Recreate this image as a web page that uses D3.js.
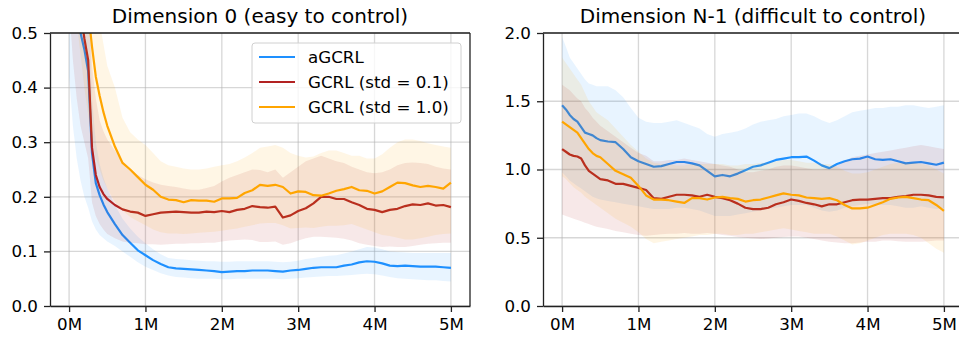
<!DOCTYPE html>
<html>
<head>
<meta charset="utf-8">
<script src="https://cdn.jsdelivr.net/npm/d3@7"></script>
<style>
body { margin: 0; background: #fff; }
text { font-family: "DejaVu Sans", sans-serif; }
</style>
</head>
<body>
<div id="chart"></div>
<script>
// training steps in millions
var steps = [0,0.05,0.1,0.15,0.2,0.25,0.3,0.35,0.4,0.45,0.5,
  0.6,0.7,0.8,0.9,1.0,1.1,1.2,1.3,1.4,1.5,
  1.6,1.7,1.8,1.9,2.0,2.1,2.2,2.3,2.4,2.5,
  2.6,2.7,2.8,2.9,3.0,3.1,3.2,3.3,3.4,3.5,
  3.6,3.7,3.8,3.9,4.0,4.1,4.2,4.3,4.4,4.5,
  4.6,4.7,4.8,4.9,5.0];
var xTicks = [0,1,2,3,4,5];
var labels = ["aGCRL", "GCRL (std = 0.1)", "GCRL (std = 1.0)"];
var titles = ["Dimension 0 (easy to control)", "Dimension N-1 (difficult to control)"];
var yTicks0 = [0,0.1,0.2,0.3,0.4,0.5];
var yTicksN = [0,0.5,1.0,1.5,2.0];

// Dimension 0
var dim0_agcrl = [0.80,0.66,0.56,0.50,0.47,0.43,0.28,0.225,0.203,0.186,0.172,
  0.150,0.130,0.116,0.102,0.093,0.084,0.077,0.071,0.069,0.068,
  0.067,0.066,0.065,0.064,0.062,0.063,0.064,0.064,0.065,0.065,
  0.065,0.064,0.063,0.065,0.066,0.068,0.070,0.071,0.071,0.071,
  0.074,0.076,0.080,0.082,0.081,0.078,0.074,0.073,0.074,0.073,
  0.072,0.072,0.072,0.071,0.070];
var dim0_agcrl_lo = [0.42,0.33,0.27,0.23,0.20,0.18,0.155,0.14,0.13,0.124,0.118,
  0.110,0.100,0.090,0.080,0.072,0.066,0.060,0.056,0.053,0.052,
  0.051,0.050,0.050,0.050,0.049,0.049,0.050,0.050,0.050,0.050,
  0.050,0.050,0.049,0.050,0.051,0.052,0.053,0.054,0.055,0.055,
  0.056,0.057,0.058,0.059,0.058,0.056,0.053,0.051,0.050,0.049,
  0.048,0.047,0.047,0.046,0.045];
var dim0_agcrl_hi = [1.10,0.95,0.82,0.72,0.66,0.60,0.38,0.30,0.26,0.235,0.215,
  0.185,0.160,0.142,0.127,0.115,0.104,0.095,0.088,0.086,0.085,
  0.084,0.083,0.082,0.082,0.081,0.081,0.082,0.082,0.082,0.082,
  0.082,0.081,0.080,0.081,0.083,0.086,0.088,0.090,0.092,0.093,
  0.096,0.100,0.104,0.108,0.107,0.104,0.100,0.099,0.098,0.097,
  0.097,0.097,0.097,0.097,0.097];
var dim0_gcrl01 = [0.85,0.72,0.62,0.54,0.49,0.45,0.29,0.24,0.218,0.205,0.196,
  0.185,0.177,0.173,0.171,0.165,0.168,0.171,0.172,0.173,0.172,
  0.171,0.171,0.173,0.172,0.174,0.172,0.176,0.178,0.183,0.181,
  0.180,0.182,0.162,0.166,0.174,0.179,0.188,0.200,0.200,0.196,
  0.196,0.190,0.185,0.178,0.176,0.172,0.176,0.178,0.183,0.186,
  0.185,0.188,0.184,0.185,0.181];
var dim0_gcrl01_lo = [0.55,0.45,0.38,0.33,0.30,0.27,0.19,0.165,0.15,0.14,0.132,
  0.124,0.118,0.116,0.115,0.113,0.113,0.112,0.113,0.114,0.114,
  0.115,0.115,0.116,0.116,0.118,0.120,0.121,0.122,0.121,0.117,
  0.117,0.118,0.112,0.115,0.120,0.124,0.127,0.127,0.126,0.125,
  0.123,0.120,0.115,0.112,0.110,0.108,0.109,0.108,0.108,0.110,
  0.112,0.114,0.115,0.116,0.116];
var dim0_gcrl01_hi = [1.00,0.90,0.80,0.72,0.65,0.60,0.44,0.38,0.34,0.32,0.305,
  0.285,0.265,0.250,0.240,0.232,0.226,0.222,0.220,0.218,0.215,
  0.213,0.213,0.216,0.220,0.228,0.235,0.240,0.245,0.250,0.249,
  0.245,0.250,0.235,0.245,0.255,0.265,0.270,0.275,0.270,0.265,
  0.262,0.255,0.250,0.245,0.243,0.245,0.250,0.258,0.262,0.263,
  0.262,0.260,0.255,0.252,0.250];
var dim0_gcrl10 = [0.95,0.85,0.76,0.67,0.60,0.54,0.475,0.42,0.385,0.355,0.33,
  0.292,0.262,0.250,0.236,0.222,0.213,0.200,0.195,0.194,0.190,
  0.194,0.193,0.193,0.191,0.197,0.197,0.198,0.207,0.212,0.222,
  0.220,0.222,0.218,0.206,0.210,0.209,0.203,0.202,0.206,0.211,
  0.214,0.218,0.212,0.211,0.206,0.210,0.218,0.226,0.225,0.221,
  0.218,0.220,0.218,0.215,0.226];
var dim0_gcrl10_lo = [0.70,0.60,0.52,0.46,0.40,0.35,0.30,0.27,0.25,0.23,0.215,
  0.190,0.175,0.163,0.155,0.148,0.140,0.135,0.133,0.133,0.132,
  0.133,0.134,0.135,0.136,0.138,0.140,0.142,0.145,0.148,0.151,
  0.152,0.152,0.148,0.142,0.143,0.144,0.143,0.145,0.147,0.147,
  0.148,0.150,0.145,0.140,0.135,0.130,0.128,0.125,0.122,0.122,
  0.124,0.127,0.130,0.132,0.133];
var dim0_gcrl10_hi = [1.20,1.10,1.00,0.90,0.82,0.74,0.65,0.58,0.52,0.48,0.44,
  0.40,0.345,0.318,0.305,0.295,0.280,0.265,0.258,0.255,0.252,
  0.250,0.250,0.252,0.255,0.258,0.260,0.265,0.272,0.280,0.290,
  0.292,0.295,0.290,0.280,0.275,0.272,0.274,0.280,0.285,0.285,
  0.280,0.275,0.275,0.270,0.270,0.278,0.290,0.300,0.305,0.305,
  0.302,0.298,0.295,0.292,0.290];

// Dimension N-1
var dimN_agcrl = [1.47,1.44,1.40,1.37,1.35,1.31,1.27,1.26,1.25,1.23,1.215,
  1.205,1.200,1.150,1.090,1.060,1.040,1.020,1.025,1.040,1.055,
  1.055,1.045,1.030,0.990,0.950,0.960,0.950,0.970,0.995,1.020,
  1.030,1.050,1.070,1.080,1.090,1.090,1.095,1.065,1.030,1.010,
  1.040,1.060,1.075,1.080,1.095,1.075,1.070,1.075,1.060,1.045,
  1.050,1.055,1.045,1.035,1.050];
var dimN_agcrl_lo = [0.98,0.95,0.92,0.90,0.88,0.86,0.84,0.82,0.80,0.79,0.78,
  0.77,0.76,0.75,0.74,0.73,0.72,0.71,0.71,0.71,0.72,
  0.72,0.71,0.70,0.68,0.66,0.66,0.66,0.67,0.68,0.69,
  0.70,0.71,0.72,0.73,0.74,0.74,0.74,0.72,0.70,0.69,
  0.70,0.72,0.73,0.74,0.75,0.74,0.74,0.74,0.73,0.72,
  0.72,0.73,0.72,0.71,0.72];
var dimN_agcrl_hi = [1.97,1.90,1.82,1.78,1.74,1.70,1.66,1.63,1.62,1.61,1.61,
  1.61,1.58,1.53,1.45,1.38,1.35,1.34,1.34,1.35,1.36,
  1.34,1.32,1.30,1.26,1.24,1.26,1.27,1.28,1.30,1.33,
  1.35,1.36,1.37,1.39,1.40,1.41,1.41,1.39,1.36,1.34,
  1.36,1.39,1.42,1.43,1.44,1.45,1.45,1.46,1.46,1.47,
  1.47,1.46,1.45,1.46,1.47];
var dimN_gcrl01 = [1.15,1.13,1.11,1.10,1.095,1.08,1.03,0.99,0.97,0.95,0.93,
  0.92,0.895,0.895,0.88,0.865,0.85,0.79,0.785,0.80,0.815,
  0.815,0.81,0.80,0.815,0.80,0.79,0.775,0.75,0.72,0.71,
  0.71,0.72,0.745,0.76,0.78,0.77,0.755,0.745,0.73,0.745,
  0.745,0.76,0.775,0.78,0.78,0.785,0.79,0.79,0.80,0.805,
  0.815,0.815,0.81,0.80,0.796];
var dimN_gcrl01_lo = [0.67,0.66,0.65,0.64,0.63,0.62,0.61,0.60,0.59,0.58,0.575,
  0.565,0.55,0.54,0.53,0.52,0.515,0.52,0.525,0.53,0.53,
  0.535,0.53,0.53,0.535,0.53,0.52,0.515,0.505,0.50,0.495,
  0.49,0.495,0.50,0.505,0.51,0.51,0.50,0.49,0.48,0.47,
  0.465,0.46,0.46,0.465,0.47,0.47,0.48,0.48,0.475,0.47,
  0.47,0.47,0.475,0.48,0.48];
var dimN_gcrl01_hi = [1.62,1.60,1.58,1.55,1.52,1.50,1.45,1.42,1.38,1.35,1.32,
  1.28,1.24,1.20,1.16,1.12,1.10,1.06,1.06,1.07,1.07,
  1.08,1.07,1.06,1.05,1.04,1.03,1.02,1.00,0.98,0.98,
  0.99,1.00,1.02,1.03,1.03,1.02,1.01,1.00,1.00,1.01,
  1.03,1.06,1.09,1.10,1.11,1.12,1.13,1.14,1.15,1.16,
  1.17,1.18,1.17,1.16,1.15];
var dimN_gcrl10 = [1.35,1.33,1.31,1.29,1.27,1.23,1.19,1.15,1.12,1.10,1.09,
  1.04,0.99,0.965,0.94,0.88,0.81,0.78,0.78,0.775,0.765,
  0.755,0.79,0.79,0.78,0.795,0.80,0.79,0.785,0.765,0.775,
  0.78,0.795,0.81,0.825,0.815,0.81,0.795,0.79,0.785,0.79,
  0.775,0.74,0.715,0.715,0.72,0.74,0.76,0.785,0.795,0.80,
  0.79,0.78,0.775,0.74,0.697];
var dimN_gcrl10_lo = [0.95,0.93,0.90,0.87,0.85,0.83,0.80,0.78,0.76,0.74,0.72,
  0.68,0.64,0.61,0.58,0.54,0.49,0.46,0.47,0.48,0.49,
  0.50,0.51,0.52,0.52,0.53,0.53,0.52,0.52,0.53,0.53,
  0.54,0.55,0.56,0.57,0.56,0.55,0.54,0.53,0.53,0.53,
  0.51,0.48,0.45,0.46,0.48,0.50,0.52,0.53,0.53,0.53,
  0.52,0.50,0.46,0.42,0.39];
var dimN_gcrl10_hi = [1.82,1.78,1.74,1.70,1.66,1.62,1.56,1.50,1.46,1.42,1.40,
  1.36,1.30,1.24,1.18,1.13,1.08,1.05,1.04,1.04,1.03,
  1.03,1.04,1.04,1.04,1.04,1.04,1.03,1.03,1.04,1.04,
  1.05,1.05,1.06,1.07,1.07,1.06,1.05,1.05,1.04,1.04,
  1.02,0.99,0.97,0.97,0.98,1.00,1.02,1.04,1.05,1.05,
  1.05,1.04,1.03,1.00,0.97];

var colors = ["#1e90ff", "#b22222", "#ffa500"];

var svg = d3.select("#chart").append("svg")
    .attr("width", 959)
    .attr("height", 337);

function drawPanel(id, left, title, yMax, yTicks, series, showLegend){
  var top = 33, bottom = 306, width = 420;
  var x = d3.scaleLinear().domain([-0.25, 5.25]).range([left, left + width]);
  var y = d3.scaleLinear().domain([0, yMax]).range([bottom, top]);

  // grid
  var grid = svg.append("g");
  grid.selectAll(".vg").data(xTicks).enter().append("line")
      .attr("x1", function(d){ return x(d); })
      .attr("x2", function(d){ return x(d); })
      .attr("y1", top).attr("y2", bottom);
  grid.selectAll(".hg").data(yTicks).enter().append("line")
      .attr("x1", left).attr("x2", left + width)
      .attr("y1", function(d){ return y(d); })
      .attr("y2", function(d){ return y(d); });
  grid.selectAll("line")
      .style("stroke", "#b0b0b0")
      .style("stroke-opacity", 0.5)
      .style("stroke-width", 1.3);

  svg.append("clipPath").attr("id", id)
    .append("rect")
      .attr("x", left).attr("y", top)
      .attr("width", width).attr("height", bottom - top);
  var plot = svg.append("g").attr("clip-path", "url(#" + id + ")");

  series.forEach(function(s, k){
    var rows = steps.map(function(t, i){
      return {t: t, m: s.mean[i], lo: s.lo[i], hi: s.hi[i]};
    });
    var band = d3.area()
        .x(function(d){ return x(d.t); })
        .y0(function(d){ return y(d.lo); })
        .y1(function(d){ return y(d.hi); });
    var line = d3.line()
        .x(function(d){ return x(d.t); })
        .y(function(d){ return y(d.m); });
    plot.append("path")
        .datum(rows)
        .attr("d", band)
        .style("fill", colors[k])
        .style("fill-opacity", 0.1);
    plot.append("path")
        .datum(rows)
        .attr("d", line)
        .style("fill", "none")
        .style("stroke", colors[k])
        .style("stroke-width", 2.2)
        .style("stroke-linejoin", "round");
  });

  // axes
  var xa = svg.append("g")
      .attr("transform", "translate(0," + bottom + ")")
      .call(d3.axisBottom(x).tickValues(xTicks)
        .tickFormat(function(d){ return d + "M"; })
        .tickSize(6).tickSizeOuter(0).tickPadding(6));
  var ya = svg.append("g")
      .attr("transform", "translate(" + left + ",0)")
      .call(d3.axisLeft(y).tickValues(yTicks)
        .tickFormat(d3.format(".1f"))
        .tickSize(6).tickSizeOuter(0).tickPadding(6));
  [xa, ya].forEach(function(a){
    a.selectAll("text").style("font-size", "16.7px").style("fill", "#000")
      .style("font-family", "DejaVu Sans, sans-serif");
    a.selectAll("line").style("stroke", "#222").style("stroke-width", 1.3);
    a.select(".domain").style("stroke", "#222").style("stroke-width", 1.3);
  });

  // top and right spines
  svg.append("line")
      .attr("x1", left).attr("x2", left + width)
      .attr("y1", top).attr("y2", top)
      .style("stroke", "#222").style("stroke-width", 1.3);
  svg.append("line")
      .attr("x1", left + width).attr("x2", left + width)
      .attr("y1", top).attr("y2", bottom)
      .style("stroke", "#222").style("stroke-width", 1.3);

  svg.append("text")
      .attr("x", left + width / 2)
      .attr("y", 23)
      .attr("text-anchor", "middle")
      .style("font-size", "20px")
      .text(title);

  if(showLegend){
    var lg = svg.append("g");
    lg.append("rect")
        .attr("x", 252).attr("y", 43)
        .attr("width", 209).attr("height", 80)
        .attr("rx", 3)
        .style("fill", "#fff").style("fill-opacity", 0.8)
        .style("stroke", "#d0d0d0").style("stroke-width", 1);
    labels.forEach(function(l, k){
      var yy = 57 + k * 25;
      lg.append("line")
          .attr("x1", 259).attr("x2", 295)
          .attr("y1", yy).attr("y2", yy)
          .style("stroke", colors[k]).style("stroke-width", 2.2);
      lg.append("text")
          .attr("x", 308).attr("y", yy)
          .attr("dy", "0.35em")
          .style("font-size", "16.7px")
          .text(l);
    });
  }
}

drawPanel("clip0", 50, titles[0], 0.5, yTicks0, [
  {mean: dim0_agcrl, lo: dim0_agcrl_lo, hi: dim0_agcrl_hi},
  {mean: dim0_gcrl01, lo: dim0_gcrl01_lo, hi: dim0_gcrl01_hi},
  {mean: dim0_gcrl10, lo: dim0_gcrl10_lo, hi: dim0_gcrl10_hi}
], true);

drawPanel("clipN", 543, titles[1], 2.0, yTicksN, [
  {mean: dimN_agcrl, lo: dimN_agcrl_lo, hi: dimN_agcrl_hi},
  {mean: dimN_gcrl01, lo: dimN_gcrl01_lo, hi: dimN_gcrl01_hi},
  {mean: dimN_gcrl10, lo: dimN_gcrl10_lo, hi: dimN_gcrl10_hi}
], false);
</script>
</body>
</html>
